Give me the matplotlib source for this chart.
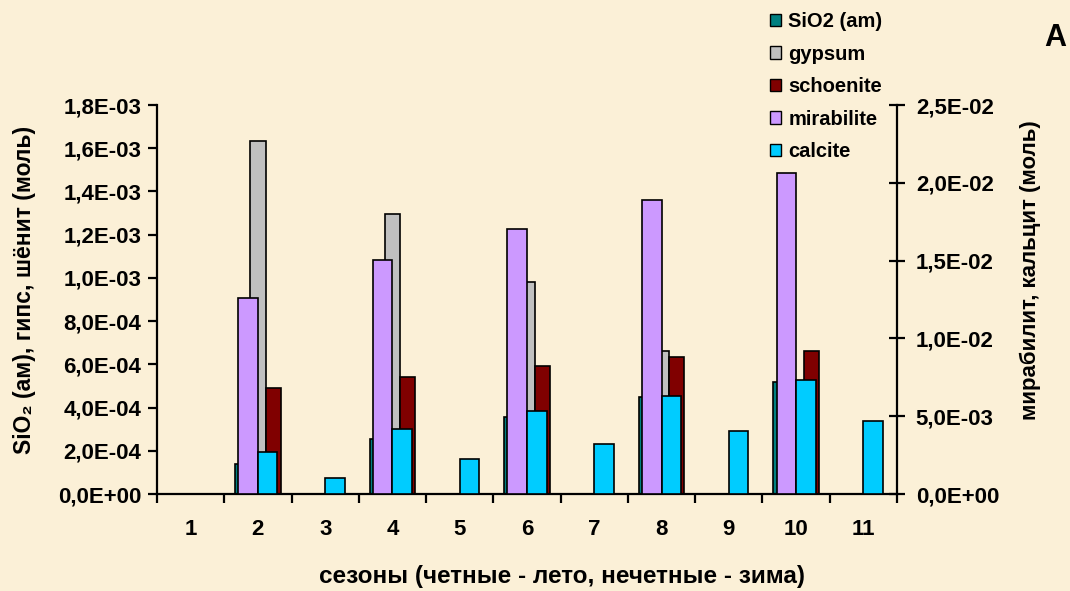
import numpy as np
import matplotlib
matplotlib.use("Agg")
import matplotlib.pyplot as plt
from matplotlib.patches import Patch
from matplotlib.ticker import FuncFormatter, MultipleLocator, FixedLocator

plt.rcParams['font.family'] = ['Liberation Sans', 'DejaVu Sans']
plt.rcParams['font.weight'] = 'bold'

seasons = ['1', '2', '3', '4', '5', '6', '7', '8', '9', '10', '11']
sio2 = [0, 0.14e-3, 0, 0.255e-3, 0, 0.355e-3, 0, 0.45e-3, 0, 0.52e-3, 0]
gypsum = [0, 1.633e-3, 0, 1.294e-3, 0, 0.982e-3, 0, 0.662e-3, 0, 0, 0]
schoenite = [0, 0.489e-3, 0, 0.541e-3, 0, 0.592e-3, 0, 0.634e-3, 0, 0.662e-3, 0]
mirabilite = [0, 1.262e-2, 0, 1.506e-2, 0, 1.705e-2, 0, 1.887e-2, 0, 2.065e-2, 0]
calcite = [0, 0.272e-2, 0.105e-2, 0.416e-2, 0.223e-2, 0.535e-2, 0.323e-2,
           0.632e-2, 0.405e-2, 0.733e-2, 0.471e-2]

names = ['SiO2 (am)', 'gypsum', 'schoenite', 'mirabilite', 'calcite']
colors = ['#008080', '#C0C0C0', '#800000', '#CC99FF', '#00CCFF']

bg = '#FBF0D7'
fig = plt.figure(figsize=(10.7, 5.91), dpi=100, facecolor=bg)
L, R, B, T = 157/1070, 897/1070, 1 - 494/591, 1 - 105/591
ax = fig.add_axes([L, B, R - L, T - B])
ax.set_facecolor('none')
ax2 = ax.twinx()
ax2.set_facecolor('none')

x = np.arange(1, len(seasons) + 1)
w1 = 0.227
for i, (vals, c) in enumerate(zip([sio2, gypsum, schoenite], colors[:3])):
    ax.bar(x + (i - 1) * w1, vals, width=w1, color=c, edgecolor='black', linewidth=1.2, zorder=2)
w2 = 0.29
for i, (vals, c) in enumerate(zip([mirabilite, calcite], colors[3:])):
    ax2.bar(x + (i - 0.5) * w2, vals, width=w2, color=c, edgecolor='black', linewidth=1.2, zorder=2)

ax.set_xlim(0.5, len(seasons) + 0.5)
ax.set_ylim(0, 1.8e-3)
ax2.set_ylim(0, 2.5e-2)

fmt = FuncFormatter(lambda v, p: f"{v:.1E}".replace('.', ','))
ax.yaxis.set_major_locator(MultipleLocator(0.2e-3))
ax.yaxis.set_major_formatter(fmt)
ax2.yaxis.set_major_locator(MultipleLocator(0.5e-2))
ax2.yaxis.set_major_formatter(fmt)

ax.xaxis.set_major_locator(FixedLocator(np.arange(0.5, len(seasons) + 1, 1.0)))
ax.xaxis.set_major_formatter(FuncFormatter(lambda v, p: ''))
ax.xaxis.set_minor_locator(FixedLocator(x))
ax.set_xticks(x, seasons, minor=True)

for s in ['top', 'right']:
    ax.spines[s].set_visible(False)
for s in ['top', 'left', 'bottom']:
    ax2.spines[s].set_visible(False)
for sp in [ax.spines['left'], ax.spines['bottom'], ax2.spines['right']]:
    sp.set_linewidth(1.6)

ax.tick_params(axis='x', which='major', direction='out', length=6.5, width=1.6)
ax.tick_params(axis='x', which='minor', length=0, pad=18, labelsize=16)
ax.tick_params(axis='y', direction='out', length=6.5, width=1.6, pad=5, labelsize=16)
ax2.tick_params(axis='y', direction='inout', length=11, width=1.6, pad=8, labelsize=16)

fig.text(562/1070, 1 - 577/591, 'сезоны (четные - лето, нечетные - зима)',
         ha='center', va='center', fontsize=17.5, fontweight='bold')
fig.text(25/1070, 1 - 290/591, 'SiO₂ (ам), гипс, шёнит (моль)', rotation=90,
         ha='center', va='center', fontsize=16.5, fontweight='bold')
fig.text(1030/1070, 1 - 270/591, 'мирабилит, кальцит (моль)', rotation=90,
         ha='center', va='center', fontsize=16, fontweight='bold')
fig.text(1055/1070, 1 - 38/591, 'A', ha='center', va='center', fontsize=22, fontweight='bold')

handles = [Patch(facecolor=c, edgecolor='black', linewidth=1.0) for c in colors]
fig.legend(handles, names, loc='upper left', bbox_to_anchor=(756/1070, 1 + 2/591),
           frameon=False, fontsize=14.5, handlelength=0.55, handleheight=0.55,
           handletextpad=0.35, labelspacing=0.67, borderpad=0.2)

fig.savefig('out.png', dpi=100, facecolor=bg)
